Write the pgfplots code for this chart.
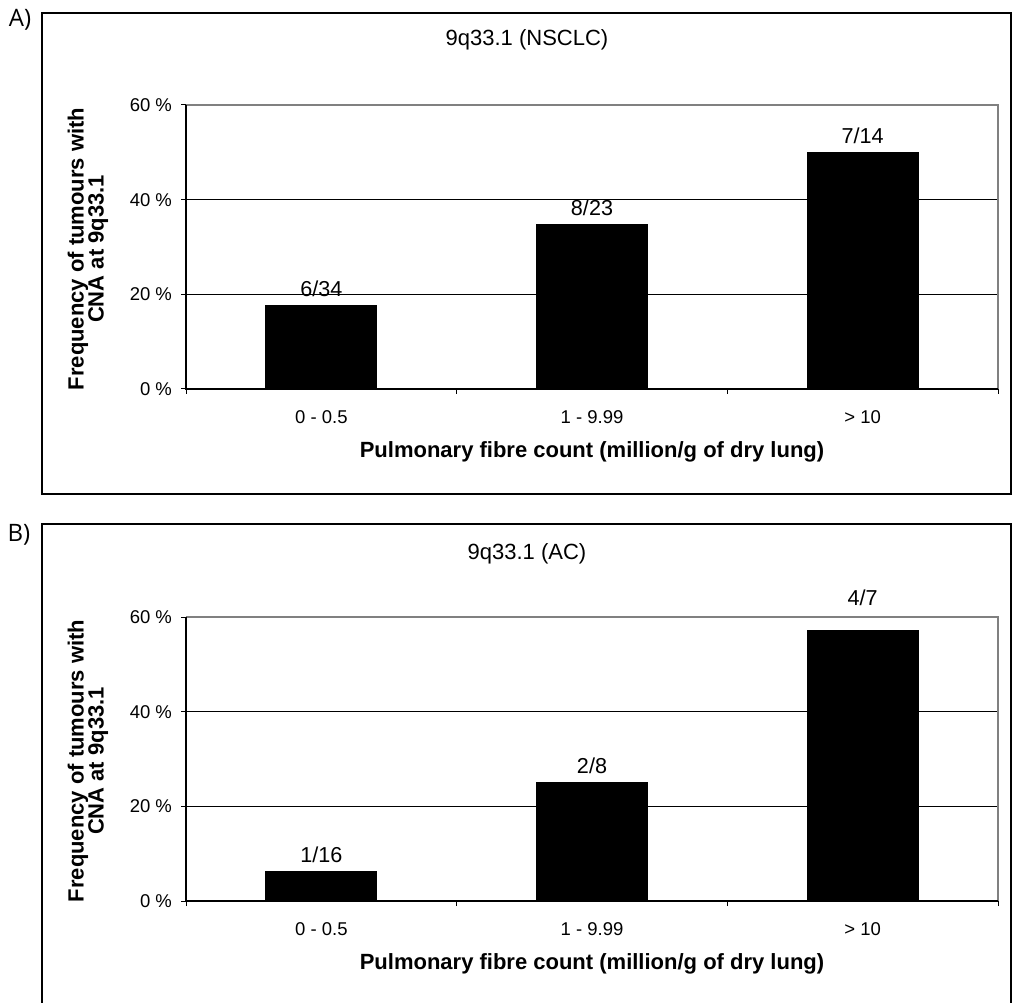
\documentclass[border=0pt]{standalone}
\usepackage{pgfplots}
\pgfplotsset{compat=1.18}
\usepackage{pgfplotstable}
\usepackage{fontspec}
\setmainfont{Liberation Sans}
\newfontfamily\labfont{Open Sans}

\pgfplotstableread{
x y lab dy
0 17.65 6/34 0
1 34.78 8/23 0
2 50.00 7/14 0
}\dataA
\pgfplotstableread{
x y lab dy
0 6.25 1/16 0
1 25.00 2/8 0
2 57.14 4/7 8
}\dataB

\pgfplotsset{
 panel/.style={
  scale only axis, width=406pt, height=142pt,
  anchor=south west,
  xmin=-0.5, xmax=2.5, ymin=0, ymax=60,
  axis line style={draw=none},
  xtick={0,1,2}, xticklabels={0 - 0.5, 1 - 9.99, > 10},
  minor xtick={-0.5,0.5,1.5,2.5},
  ytick={0,20,40,60},
  yticklabels={0 \%, 20 \%, 40 \%, 60 \%},
  tick align=outside,
  xtick pos=lower, ytick pos=left,
  major tick length=2.5pt, minor tick length=2.5pt,
  major x tick style={draw=none},
  tick style={black, line width=0.5pt},
  ymajorgrids, grid style={black, line width=0.5pt},
  tick label style={font=\fontsize{9.25}{11}\selectfont},
  x tick label style={yshift=-5pt},
  y tick label style={xshift=-1pt},
  clip=false,
 },
 bars/.style={ybar, fill=black, draw=black, bar width=0.41,
  nodes near coords, point meta=explicit symbolic,
  visualization depends on={\thisrow{dy} \as \dy},
  every node near coord/.style={font=\fontsize{10.8}{12}\selectfont, anchor=south, inner sep=1pt, yshift=3.2pt, yshift=\dy pt, black}},
}

\begin{document}
\begin{tikzpicture}[x=0.5pt,y=0.5pt]
\useasboundingbox (0,0) rectangle (1015,1002);
% panel frames
\draw[black, line width=0.8pt] (42,989) rectangle (1011,508);
\draw[black, line width=0.8pt] (42,-5) -- (42,478) -- (1011,478) -- (1011,-5);
\node[font=\labfont\fontsize{12}{14}\selectfont] at (20,982) {A)};
\node[font=\labfont\fontsize{12}{14}\selectfont] at (19,467) {B)};

% Panel A
\begin{axis}[panel, at={(93pt,306.5pt)}]
\addplot[bars] table[x=x,y=y,meta=lab]{\dataA};
\draw[gray, line width=0.75pt] (rel axis cs:0,1) -- (rel axis cs:1,1) -- (rel axis cs:1,0);
\draw[black, line width=0.75pt] (rel axis cs:0,1) -- (rel axis cs:0,0) -- (rel axis cs:1,0);
\end{axis}
\node[font=\fontsize{11}{13}\selectfont] at (527,962) {9q33.1 (NSCLC)};
\node[font=\bfseries\fontsize{11}{13}\selectfont] at (592,550) {Pulmonary fibre count (million/g of dry lung)};
\node[font=\bfseries\fontsize{11}{10}\selectfont, align=center, rotate=90] at (88,753) {Frequency of tumours with\\CNA at 9q33.1};

% Panel B
\begin{axis}[panel, at={(93pt,50.5pt)}]
\addplot[bars] table[x=x,y=y,meta=lab]{\dataB};
\draw[gray, line width=0.75pt] (rel axis cs:0,1) -- (rel axis cs:1,1) -- (rel axis cs:1,0);
\draw[black, line width=0.75pt] (rel axis cs:0,1) -- (rel axis cs:0,0) -- (rel axis cs:1,0);
\end{axis}
\node[font=\fontsize{11}{13}\selectfont] at (527,448) {9q33.1 (AC)};
\node[font=\bfseries\fontsize{11}{13}\selectfont] at (592,38) {Pulmonary fibre count (million/g of dry lung)};
\node[font=\bfseries\fontsize{11}{10}\selectfont, align=center, rotate=90] at (88,241) {Frequency of tumours with\\CNA at 9q33.1};
\end{tikzpicture}
\end{document}
